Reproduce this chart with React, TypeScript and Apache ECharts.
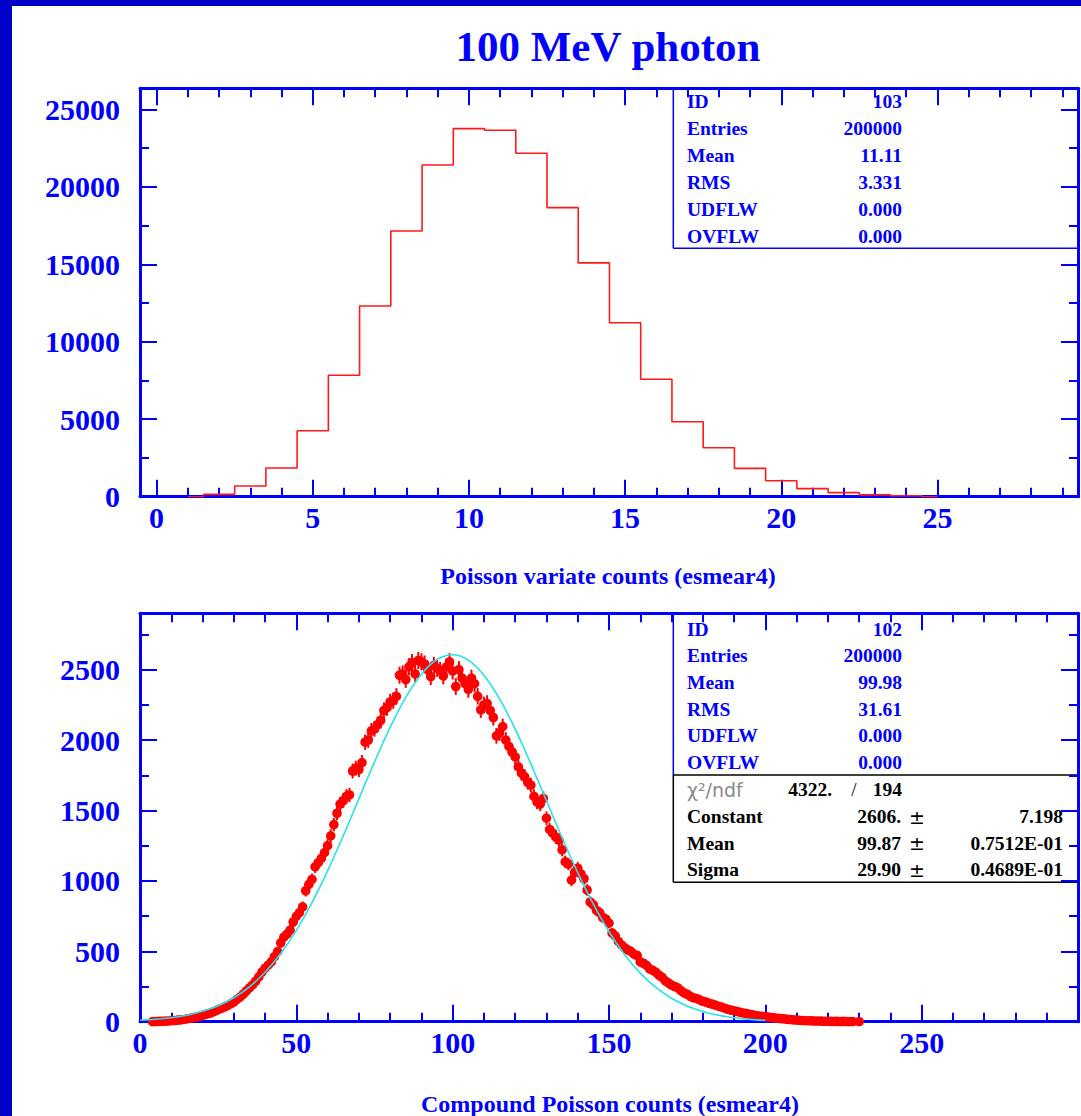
import React, { useEffect, useRef } from "react";
import * as echarts from "echarts";

// ---------- data ----------
// Top: Poisson variate counts histogram (bin centres, contents)
const topBins = [1, 2, 3, 4, 5, 6, 7, 8, 9, 10, 11, 12, 13, 14, 15, 16, 17, 18, 19, 20, 21, 22, 23, 24, 25];
const topCounts = [0, 150, 690, 1850, 4260, 7840, 12310, 17150, 21410, 23760, 23650, 22170, 18660, 15090, 11230, 7580, 4840, 3160, 1830, 1030, 520, 260, 120, 60, 0];

// Bottom: Compound Poisson counts, bin contents for bins 0..230
const compCounts = [
  0, 0, 0, 0, 1, 1, 2, 3, 4, 5,
  7, 8, 11, 13, 16, 20, 24, 29, 33, 39,
  45, 52, 58, 66, 75, 86, 95, 104, 115, 127,
  140, 158, 175, 195, 218, 240, 262, 288, 318, 352,
  380, 402, 425, 462, 498, 560, 600, 622, 650, 708,
  748, 775, 815, 930, 975, 1010, 1100, 1130, 1160, 1200,
  1250, 1320, 1400, 1480, 1545, 1570, 1600, 1610, 1780, 1800,
  1790, 1840, 1985, 2000, 2065, 2080, 2110, 2140, 2210, 2230,
  2270, 2280, 2310, 2460, 2470, 2430, 2520, 2550, 2470, 2565,
  2555, 2540, 2500, 2450, 2530, 2510, 2495, 2455, 2520, 2555,
  2490, 2380, 2500, 2440, 2400, 2360, 2440, 2400, 2310, 2215,
  2250, 2260, 2210, 2160, 2030, 2050, 2095, 2000, 1955, 1915,
  1880, 1810, 1765, 1740, 1700, 1680, 1600, 1560, 1545, 1585,
  1445, 1365, 1340, 1310, 1290, 1220, 1135, 1120, 1005, 1060,
  1090, 1050, 1015, 935, 850, 830, 790, 775, 740, 728,
  700, 630, 610, 570, 545, 525, 510, 500, 480, 470,
  425, 415, 400, 375, 365, 350, 330, 315, 290, 275,
  260, 250, 240, 220, 205, 195, 180, 170, 165, 155,
  145, 140, 130, 125, 118, 110, 104, 96, 88, 82,
  78, 72, 66, 62, 58, 52, 49, 44, 41, 38,
  36, 33, 30, 27, 24, 22, 20, 17, 15, 13,
  12, 10, 8, 7, 7, 6, 5, 5, 4, 3,
  3, 2, 2, 2, 1, 2, 1, 1, 1, 0, 1,
];
const compErrors = compCounts.map((v) => Math.sqrt(v));

const fitX = [0, 5, 10, 15, 20, 25, 30, 35, 40, 45, 50, 55, 60, 65, 70, 75, 80, 85, 90, 95, 100, 105, 110, 115, 120, 125, 130, 135, 140, 145, 150, 155, 160, 165, 170, 175, 180, 185, 190, 195, 200];
const fitY = [9.8, 17.0, 28.5, 46.4, 73.5, 113.4, 169.9, 247.7, 351.1, 483.8, 648.6, 845.2, 1071.3, 1320.2, 1582.4, 1844, 2089.8, 2303, 2467.8, 2571.6, 2606, 2568, 2460.6, 2292.7, 2077.5, 1830.5, 1568.5, 1307, 1058.8, 834.2, 639, 476.1, 345, 243, 166.5, 111, 71.8, 45.3, 27.7, 16.5, 9.6];

// Tick values / labels
const topXMajor = [0, 5, 10, 15, 20, 25];
const topXMinor = Array.from({ length: 30 }, (_, i) => i);
const topYMajor = [0, 5000, 10000, 15000, 20000, 25000];
const topYMinor = [2500, 7500, 12500, 17500, 22500];
const botXMajor = [0, 50, 100, 150, 200, 250];
const botXMinor = [10, 20, 30, 40, 60, 70, 80, 90, 110, 120, 130, 140, 160, 170, 180, 190, 210, 220, 230, 240, 260, 270, 280, 290];
const botYMajor = [0, 500, 1000, 1500, 2000, 2500];
const botYMinor = [250, 750, 1250, 1750, 2250, 2750];

// Stats boxes text
const topStats = [["ID", "103"], ["Entries", "200000"], ["Mean", "11.11"], ["RMS", "3.331"], ["UDFLW", "0.000"], ["OVFLW", "0.000"]];
const botStats = [["ID", "102"], ["Entries", "200000"], ["Mean", "99.98"], ["RMS", "31.61"], ["UDFLW", "0.000"], ["OVFLW", "0.000"]];
const fitStats = [["Constant", "2606.", "7.198"], ["Mean", "99.87", "0.7512E-01"], ["Sigma", "29.90", "0.4689E-01"]];

// ---------- style ----------
const BLUE = "#0000ff";
const RED = "#ff0000";
const CYAN = "#26e2ee";
const SERIF = "'Liberation Serif', 'Times New Roman', serif";

function frameAxes(
  dim: "x" | "y",
  gridIndex: number,
  min: number,
  max: number,
  majors: number[],
  minors: number[],
  labels: number[],
) {
  const positions = dim === "x" ? ["bottom", "top"] : ["left", "right"];
  const axes: any[] = [];
  positions.forEach((pos, pi) => {
    axes.push({
      type: "value",
      gridIndex,
      position: pos,
      min,
      max,
      axisLine: { show: true, onZero: false, lineStyle: { color: BLUE, width: 3 } },
      axisTick: { show: true, inside: true, length: 17, customValues: majors, lineStyle: { color: BLUE, width: 2 } },
      axisLabel:
        pi === 0
          ? {
              show: true,
              customValues: labels,
              formatter: (v: number) => String(v),
              color: BLUE,
              fontFamily: SERIF,
              fontWeight: "bold",
              fontSize: 30,
              margin: dim === "x" ? 6 : 20,
            }
          : { show: false },
      splitLine: { show: false },
      minorTick: { show: false },
    });
    axes.push({
      type: "value",
      gridIndex,
      position: pos,
      min,
      max,
      axisLine: { show: false, onZero: false },
      axisTick: { show: true, inside: true, length: 9, customValues: minors, lineStyle: { color: BLUE, width: 2 } },
      axisLabel: { show: false },
      splitLine: { show: false },
    });
  });
  return axes;
}

function statsGraphics(rows: string[][], top: number, step: number) {
  return rows.flatMap((r, i) => [
    {
      type: "text",
      x: 687,
      y: top + i * step,
      style: { text: r[0], fill: BLUE, font: `bold 19.5px ${SERIF}`, textAlign: "left", textVerticalAlign: "middle" },
    },
    {
      type: "text",
      x: 902,
      y: top + i * step,
      style: { text: r[1], fill: BLUE, font: `bold 19.5px ${SERIF}`, textAlign: "right", textVerticalAlign: "middle" },
    },
  ]);
}

function buildOption() {
  const xAxes = [
    ...frameAxes("x", 0, -0.53, 29.5, topXMajor, topXMinor, topXMajor),
    ...frameAxes("x", 1, 0, 300, botXMajor, botXMinor, botXMajor),
  ];
  const yAxes = [
    ...frameAxes("y", 0, 0, 26360, topYMajor, topYMinor, topYMajor),
    ...frameAxes("y", 1, 0, 2900, botYMajor, botYMinor, botYMajor),
  ];

  const graphics: any[] = [
    { type: "rect", shape: { x: 0, y: 0, width: 1081, height: 6 }, style: { fill: "#0000c8" } },
    { type: "rect", shape: { x: 0, y: 0, width: 12, height: 1116 }, style: { fill: "#0000c8" } },
    {
      type: "text",
      x: 608,
      y: 46,
      style: { text: "100 MeV photon", fill: BLUE, font: `bold 43px ${SERIF}`, textAlign: "center", textVerticalAlign: "middle" },
    },
    {
      type: "text",
      x: 608,
      y: 576,
      style: { text: "Poisson variate counts (esmear4)", fill: BLUE, font: `bold 24px ${SERIF}`, textAlign: "center", textVerticalAlign: "middle" },
    },
    {
      type: "text",
      x: 610,
      y: 1104,
      style: { text: "Compound Poisson counts (esmear4)", fill: BLUE, font: `bold 24px ${SERIF}`, textAlign: "center", textVerticalAlign: "middle" },
    },
    // top stats box
    { type: "line", shape: { x1: 673.3, y1: 88, x2: 673.3, y2: 248.3 }, style: { stroke: BLUE, lineWidth: 1.5 } },
    { type: "line", shape: { x1: 673.3, y1: 248.3, x2: 1078, y2: 248.3 }, style: { stroke: BLUE, lineWidth: 1.5 } },
    ...statsGraphics(topStats, 101.7, 26.9),
    // bottom stats box
    { type: "line", shape: { x1: 673.3, y1: 613, x2: 673.3, y2: 775 }, style: { stroke: BLUE, lineWidth: 1.5 } },
    { type: "line", shape: { x1: 673.3, y1: 775, x2: 673.3, y2: 882.3 }, style: { stroke: "#000", lineWidth: 1.5 } },
    { type: "line", shape: { x1: 673.3, y1: 775, x2: 1078, y2: 775 }, style: { stroke: "#000", lineWidth: 1.5 } },
    { type: "line", shape: { x1: 673.3, y1: 882.3, x2: 1078, y2: 882.3 }, style: { stroke: "#000", lineWidth: 1.5 } },
    ...statsGraphics(botStats, 629.3, 26.6),
    {
      type: "text",
      x: 687,
      y: 789.5,
      style: { text: "χ²/ndf", fill: "#8a8a8a", font: `19px 'DejaVu Sans', sans-serif`, textAlign: "left", textVerticalAlign: "middle" },
    },
    {
      type: "text",
      x: 832,
      y: 789.5,
      style: { text: "4322.", fill: "#000", font: `bold 19.5px ${SERIF}`, textAlign: "right", textVerticalAlign: "middle" },
    },
    {
      type: "text",
      x: 854,
      y: 789.5,
      style: { text: "/", fill: "#000", font: `19px ${SERIF}`, textAlign: "center", textVerticalAlign: "middle" },
    },
    {
      type: "text",
      x: 902,
      y: 789.5,
      style: { text: "194", fill: "#000", font: `bold 19.5px ${SERIF}`, textAlign: "right", textVerticalAlign: "middle" },
    },
    ...fitStats.flatMap((r, i) => {
      const y = 816.7 + i * 26.6;
      return [
        { type: "text", x: 687, y, style: { text: r[0], fill: "#000", font: `bold 19.5px ${SERIF}`, textAlign: "left", textVerticalAlign: "middle" } },
        { type: "text", x: 901, y, style: { text: r[1], fill: "#000", font: `bold 19.5px ${SERIF}`, textAlign: "right", textVerticalAlign: "middle" } },
        { type: "text", x: 917, y, style: { text: "±", fill: "#000", font: `19px 'DejaVu Sans', sans-serif`, textAlign: "center", textVerticalAlign: "middle" } },
        { type: "text", x: 1063, y, style: { text: r[2], fill: "#000", font: `bold 19.5px ${SERIF}`, textAlign: "right", textVerticalAlign: "middle" } },
      ];
    }),
  ];

  const compData = compCounts
    .map((v, i) => [i, v, compErrors[i]])
    .filter((d) => d[1] > 0);

  return {
    animation: false,
    backgroundColor: "#ffffff",
    grid: [
      { left: 140, top: 88.3, width: 938, height: 408.4 },
      { left: 140, top: 613.3, width: 938, height: 408.4 },
    ],
    xAxis: xAxes,
    yAxis: yAxes,
    graphic: graphics,
    series: [
      {
        type: "line",
        xAxisIndex: 0,
        yAxisIndex: 0,
        data: topBins.map((b, i) => [b, topCounts[i]]),
        step: "middle",
        symbol: "none",
        lineStyle: { color: "#ff1a1a", width: 1.6 },
        z: 3,
      },
      {
        type: "custom",
        xAxisIndex: 4,
        yAxisIndex: 4,
        data: compData,
        z: 3,
        renderItem: (params: any, api: any) => {
          const x = api.value(0);
          const y = api.value(1);
          const e = api.value(2);
          const p = api.coord([x, y]);
          const t = api.coord([x, y + e]);
          const b = api.coord([x, Math.max(0, y - e)]);
          return {
            type: "group",
            children: [
              { type: "line", shape: { x1: p[0], y1: t[1] - 1.5, x2: p[0], y2: b[1] + 1.5 }, style: { stroke: RED, lineWidth: 2 } },
              { type: "circle", shape: { cx: p[0], cy: p[1], r: 4.8 }, style: { fill: RED } },
            ],
          };
        },
      },
      {
        type: "line",
        xAxisIndex: 4,
        yAxisIndex: 4,
        data: fitX.map((x, i) => [x, fitY[i]]),
        smooth: 0.35,
        symbol: "none",
        lineStyle: { color: CYAN, width: 1.6 },
        z: 4,
      },
    ],
  };
}

export default function App() {
  const ref = useRef<HTMLDivElement>(null);
  useEffect(() => {
    const chart = echarts.init(ref.current!, null, { renderer: "svg" });
    chart.setOption(buildOption() as any);
    return () => chart.dispose();
  }, []);
  return (
    <div
      ref={ref}
      style={{ position: "fixed", left: 0, top: 0, width: 1081, height: 1116, background: "#fff" }}
    />
  );
}
